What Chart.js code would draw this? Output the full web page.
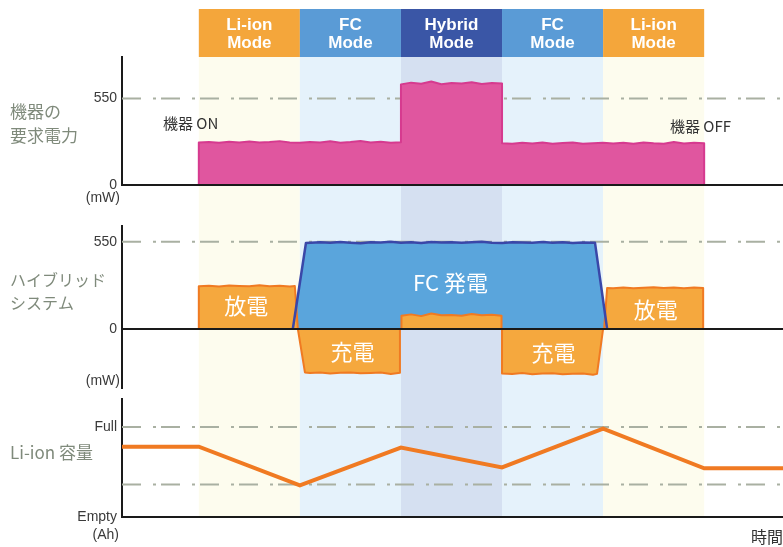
<!DOCTYPE html>
<html lang="ja">
<head>
<meta charset="utf-8">
<title>ハイブリッド電源の動作</title>
<script src="https://cdn.jsdelivr.net/npm/chart.js@4.4.1/dist/chart.umd.min.js"></script>
<style>
  html, body { margin: 0; padding: 0; background: #fff; }
  #wrap { position: relative; width: 783px; height: 547px; overflow: hidden; }
  #wrap canvas { position: absolute; left: 0; }
</style>
</head>
<body>
<div id="wrap">
  <canvas id="demandChart" width="783" height="214" style="top:0"></canvas>
  <canvas id="hybridChart" width="783" height="184" style="top:214px"></canvas>
  <canvas id="capacityChart" width="783" height="149" style="top:398px"></canvas>
</div>
<script>
// 動作モードと時間軸
const modeNames = ['Li-ion', 'FC', 'Hybrid', 'FC', 'Li-ion'];
const modeEdges = [10, 20, 30, 40, 50, 60];
const timeRange = [2.4, 67.8];

// 機器の要求電力 (mW)
const demandTime = [10, 10, 11, 12, 13, 14, 15, 16, 17, 18, 19, 20, 21, 22, 23, 24, 25, 26, 27, 28, 29, 30,
  30, 31, 32, 33, 34, 35, 36, 37, 38, 39, 40,
  40, 41, 42, 43, 44, 45, 46, 47, 48, 49, 50, 51, 52, 53, 54, 55, 56, 57, 58, 59, 60, 60];
const demandPower = [0, 270, 273, 268, 275, 270, 277, 271, 274, 279, 270, 268, 274, 270, 278, 269, 273, 280, 270, 275, 268, 272,
  640, 651, 644, 658, 641, 649, 646, 653, 642, 648, 645,
  266, 262, 268, 264, 270, 263, 267, 271, 262, 266, 269, 264, 268, 262, 270, 265, 263, 274, 264, 268, 266, 0];

// ハイブリッドシステム: FC 発電 (mW)
const fcTime = [19.3, 20.6, 22, 23, 24, 25, 26, 27, 28, 29, 30, 31, 32, 33, 34, 35, 36, 37, 38, 39, 40,
  41, 42, 43, 44, 45, 46, 47, 48, 49.2, 50.4];
const fcPower = [0, 542, 546, 543, 548, 544, 541, 547, 545, 549, 543, 546, 542, 548, 545, 547, 543, 546, 549, 544, 542,
  547, 545, 543, 548, 544, 546, 542, 545, 543, 0];

// Li-ion 放電 (+) / 充電 (-) (mW)
const discharge1Time = [10, 10, 11, 12, 13, 14, 15, 16, 17, 18, 19, 19.5, 19.8];
const discharge1Power = [0, 270, 273, 268, 274, 271, 269, 275, 270, 273, 268, 271, 0];
const charge1Time = [19.8, 20.5, 21, 22, 23, 24, 25, 26, 27, 28, 29, 29.9, 29.9];
const charge1Power = [0, -274, -278, -275, -281, -276, -274, -279, -277, -275, -284, -276, 0];
const hybridTime = [30.05, 30.05, 31, 32, 33, 34, 35, 36, 37, 38, 39, 39.95, 39.95];
const hybridPower = [0, 84, 92, 81, 98, 86, 88, 83, 95, 86, 89, 84, 0];
const charge2Time = [40, 40, 41, 42, 43, 44, 45, 46, 47, 48, 49, 49.4, 50];
const charge2Power = [0, -280, -283, -278, -285, -281, -279, -286, -282, -280, -288, -283, 0];
const discharge2Time = [50.1, 50.4, 51, 52, 53, 54, 55, 56, 57, 58, 59, 59.9, 59.9];
const discharge2Power = [0, 259, 257, 262, 256, 260, 263, 258, 261, 257, 262, 259, 0];

// Li-ion 容量 (Empty = 0, Full = 100)
const capacityTime = [2.4, 10, 20, 30, 40, 50, 60, 67.8];
const capacityLevel = [78, 78, 35, 77, 55, 98, 54, 54];

// 目盛りと補助線
const powerTicks = [0, 550];
const powerRef = 550;
const capacityTicks = [0, 100];
const capacityTickLabels = ['Empty', 'Full'];
const capacityRefs = [100, 36];

const headerColors = { 'Li-ion': '#f4a63b', 'FC': '#5a9bd6', 'Hybrid': '#3a56a6' };
const bandColors = { 'Li-ion': '#fdfcee', 'FC': '#e5f2fb', 'Hybrid': '#d5e0f1' };
const ORANGE_FILL = '#f5a83e', ORANGE_LINE = '#f07a22';
const DASH = [19, 12, 3, 5];
const REF_COLOR = '#a9b0a2';
const AXIS_COLOR = '#1a1a1a';
const JP = '"Noto Sans CJK JP", sans-serif';
const SIDE = '#7f8a7b';

Chart.defaults.font.family = '"Liberation Sans", Arial, sans-serif';

function pts(ts, vs) {
  return ts.map((t, i) => ({ x: t, y: vs[i] }));
}

function area(ts, vs, fill, border, width, order) {
  return {
    data: pts(ts, vs), backgroundColor: fill || 'transparent', borderColor: border || 'transparent',
    borderWidth: border ? width : 0, fill: fill ? 'origin' : false, order: order, borderJoinStyle: 'round'
  };
}

function hline(y, color, width, dash, order) {
  return {
    data: [{ x: timeRange[0], y: y }, { x: timeRange[1], y: y }],
    borderColor: color, borderWidth: width, borderDash: dash || [], fill: false, order: order, clip: false
  };
}

// モードごとの背景帯
function bandsPlugin(top, toAxis) {
  return {
    id: 'modeBands',
    beforeDraw(chart) {
      const { ctx, scales: { x } } = chart;
      const bottom = toAxis ? chart.chartArea.bottom : chart.height;
      ctx.save();
      modeNames.forEach((m, i) => {
        const x0 = x.getPixelForValue(modeEdges[i]);
        const x1 = x.getPixelForValue(modeEdges[i + 1]);
        ctx.fillStyle = bandColors[m];
        ctx.fillRect(x0, top, x1 - x0, bottom - top);
      });
      ctx.restore();
    }
  };
}

// 上部のモード見出し
const modeHeader = {
  id: 'modeHeader',
  afterDraw(chart) {
    const { ctx, scales: { x } } = chart;
    ctx.save();
    ctx.textAlign = 'center';
    ctx.textBaseline = 'middle';
    ctx.font = 'bold 17px "Liberation Sans", Arial, sans-serif';
    modeNames.forEach((m, i) => {
      const x0 = x.getPixelForValue(modeEdges[i]);
      const x1 = x.getPixelForValue(modeEdges[i + 1]);
      ctx.fillStyle = headerColors[m];
      ctx.fillRect(x0, 9, x1 - x0, chart.chartArea.top - 9);
      ctx.fillStyle = '#ffffff';
      ctx.fillText(m, (x0 + x1) / 2, 25);
      ctx.fillText('Mode', (x0 + x1) / 2, 43);
    });
    ctx.restore();
  }
};

// 文字の書き込み (t, v はデータ座標、x, y はピクセル)
function notesPlugin(items) {
  return {
    id: 'notes',
    afterDraw(chart) {
      const { ctx, scales: { x, y } } = chart;
      ctx.save();
      ctx.textBaseline = 'middle';
      items.forEach(n => {
        const px = n.t !== undefined ? x.getPixelForValue(n.t) : n.x;
        const py = n.v !== undefined ? y.getPixelForValue(n.v) : n.y;
        ctx.font = n.font;
        ctx.fillStyle = n.color;
        ctx.textAlign = n.align || 'left';
        ctx.fillText(n.text, px, py);
      });
      ctx.restore();
    }
  };
}

function baseOptions(yMin, yMax, ticks, padTop, padBottom, label) {
  return {
    responsive: false,
    animation: false,
    events: [],
    layout: { padding: { top: padTop, bottom: padBottom, left: 0, right: 0 } },
    plugins: { legend: { display: false }, tooltip: { enabled: false } },
    elements: { point: { radius: 0 }, line: { tension: 0 } },
    scales: {
      x: { type: 'linear', display: false, min: timeRange[0], max: timeRange[1] },
      y: {
        min: yMin,
        max: yMax,
        afterFit: s => { s.width = 122; s.paddingTop = 0; s.paddingBottom = 0; },
        afterBuildTicks: s => { s.ticks = ticks.map(v => ({ value: v })); },
        grid: { display: false, drawTicks: false },
        border: { display: true, color: AXIS_COLOR, width: 2 },
        ticks: { padding: 5, color: '#3a3a3a', font: { size: 14 }, callback: label }
      }
    }
  };
}

// 機器の要求電力
new Chart(document.getElementById('demandChart'), {
  type: 'line',
  data: {
    datasets: [
      hline(0, AXIS_COLOR, 2, null, 0),
      area(demandTime, demandPower, '#e0569f', '#d63a8f', 2, 1),
      hline(powerRef, REF_COLOR, 2, DASH, 2)
    ]
  },
  options: baseOptions(0, 814, powerTicks, 57, 29, v => String(v)),
  plugins: [
    bandsPlugin(57, false),
    modeHeader,
    notesPlugin([
      { text: '機器の', x: 10, y: 112, font: '17px ' + JP, color: SIDE },
      { text: '要求電力', x: 10, y: 136, font: '17px ' + JP, color: SIDE },
      { text: '(mW)', x: 120, y: 198, align: 'right', font: '14px "Liberation Sans"', color: '#3a3a3a' },
      { text: '機器 ON', x: 163, y: 123, font: '15px ' + JP, color: '#333' },
      { text: '機器 OFF', x: 670, y: 126, font: '15px ' + JP, color: '#333' }
    ])
  ]
});

// ハイブリッドシステムの出力
new Chart(document.getElementById('hybridChart'), {
  type: 'line',
  data: {
    datasets: [
      hline(0, AXIS_COLOR, 2, null, 0),
      area(fcTime, fcPower, null, '#3a47a8', 2.5, 1),
      area(discharge1Time, discharge1Power, ORANGE_FILL, ORANGE_LINE, 2, 2),
      area(charge1Time, charge1Power, ORANGE_FILL, ORANGE_LINE, 2, 3),
      area(hybridTime, hybridPower, ORANGE_FILL, ORANGE_LINE, 2, 4),
      area(charge2Time, charge2Power, ORANGE_FILL, ORANGE_LINE, 2, 5),
      area(discharge2Time, discharge2Power, ORANGE_FILL, ORANGE_LINE, 2, 6),
      area(fcTime, fcPower, '#5aa5dc', null, 0, 7),
      hline(powerRef, REF_COLOR, 2, DASH, 8)
    ]
  },
  options: baseOptions(-372, 649, powerTicks, 12, 10, v => String(v)),
  plugins: [
    bandsPlugin(0, false),
    notesPlugin([
      { text: 'ハイブリッド', x: 10, y: 66, font: '16px ' + JP, color: SIDE },
      { text: 'システム', x: 10, y: 89, font: '16px ' + JP, color: SIDE },
      { text: '(mW)', x: 120, y: 167, align: 'right', font: '14px "Liberation Sans"', color: '#3a3a3a' },
      { text: 'FC 発電', t: 34.9, v: 290, align: 'center', font: '22px ' + JP, color: '#fff' },
      { text: '放電', t: 14.7, v: 145, align: 'center', font: '22px ' + JP, color: '#fff' },
      { text: '放電', t: 55.2, v: 120, align: 'center', font: '22px ' + JP, color: '#fff' },
      { text: '充電', t: 25.2, v: -145, align: 'center', font: '22px ' + JP, color: '#fff' },
      { text: '充電', t: 45.1, v: -151, align: 'center', font: '22px ' + JP, color: '#fff' }
    ])
  ]
});

// Li-ion 容量
new Chart(document.getElementById('capacityChart'), {
  type: 'line',
  data: {
    datasets: [
      hline(0, AXIS_COLOR, 2, null, 0),
      {
        data: pts(capacityTime, capacityLevel), borderColor: ORANGE_LINE, borderWidth: 4,
        fill: false, order: 1, borderJoinStyle: 'miter'
      },
      hline(capacityRefs[0], REF_COLOR, 2, DASH, 2),
      hline(capacityRefs[1], REF_COLOR, 2, DASH, 3)
    ]
  },
  options: baseOptions(0, 131, capacityTicks, 1, 30, (v, i) => capacityTickLabels[i]),
  plugins: [
    bandsPlugin(0, true),
    notesPlugin([
      { text: 'Li-ion 容量', x: 10, y: 55, font: '17px ' + JP, color: SIDE },
      { text: '(Ah)', x: 119, y: 137, align: 'right', font: '14px "Liberation Sans"', color: '#3a3a3a' },
      { text: '時間', x: 783, y: 139, align: 'right', font: '16px ' + JP, color: '#333' }
    ])
  ]
});
</script>
</body>
</html>
